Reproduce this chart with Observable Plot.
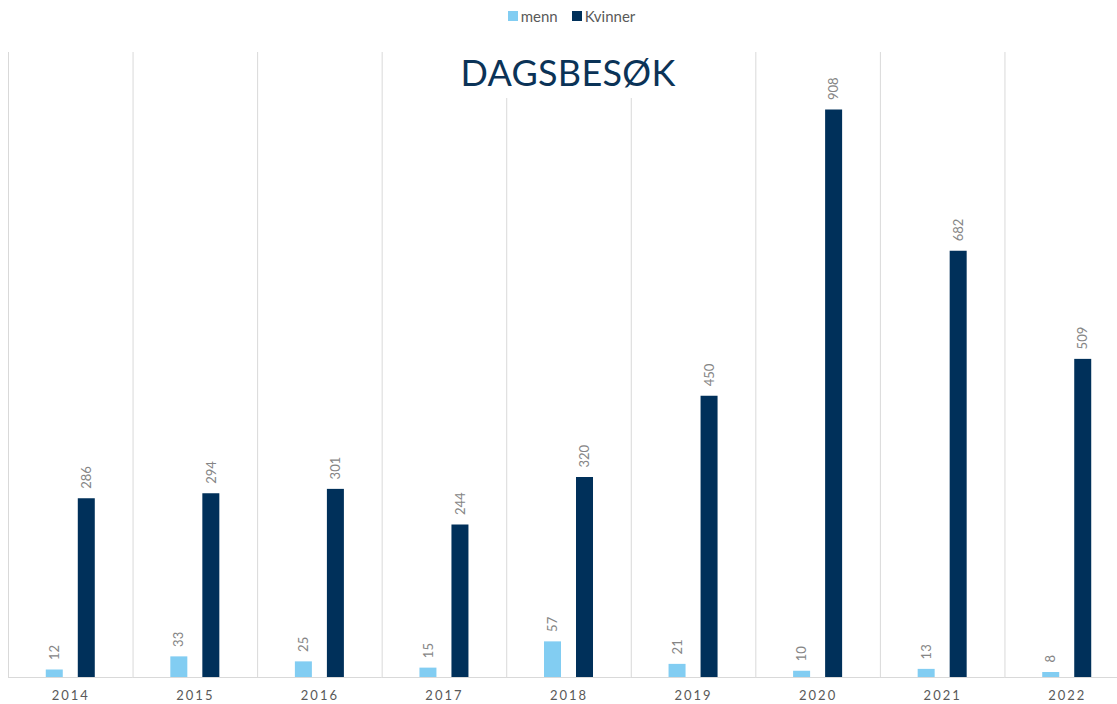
<!DOCTYPE html>
<html>
<head>
<meta charset="utf-8">
<script src="https://cdn.jsdelivr.net/npm/d3@7"></script>
<script src="https://cdn.jsdelivr.net/npm/@observablehq/plot@0.6"></script>
<style>
  html, body { margin: 0; padding: 0; background: #fff; overflow: hidden; }
  #wrap { position: relative; width: 1117px; height: 704px; overflow: hidden; font-family: Lato, "Open Sans", sans-serif; }
  #legend { position: absolute; top: 7px; left: 0; width: 1117px; display: flex; justify-content: center; gap: 14px; font-size: 15px; color: #595959; padding-left: 26px; box-sizing: border-box; }
  #legend span.item { display: flex; align-items: center; gap: 3px; }
  #legend span.sw { display: inline-block; width: 10px; height: 10px; }
  #title { position: absolute; top: 51px; left: 452px; width: 232px; height: 47px; background: #fff; text-align: center; font-size: 36px; line-height: 42px; color: #0b3357; letter-spacing: 0.3px; }
  #chart { position: absolute; top: 0; left: 0; width: 1129px; }
  #chart svg { max-width: none !important; }
</style>
</head>
<body>
<div id="wrap">
  <div id="chart"></div>
  <div id="legend"></div>
  <div id="title">DAGSBESØK</div>
</div>
<script>
const years = ["2014", "2015", "2016", "2017", "2018", "2019", "2020", "2021", "2022"];
const series = ["menn", "Kvinner"];
const menn = [12, 33, 25, 15, 57, 21, 10, 13, 8];
const kvinner = [286, 294, 301, 244, 320, 450, 908, 682, 509];
const colors = ["#82cdf2", "#00305a"];

const data = [];
years.forEach((y, i) => {
  data.push({year: y, series: "menn", value: menn[i]});
  data.push({year: y, series: "Kvinner", value: kvinner[i]});
});

const legend = document.getElementById("legend");
series.forEach((s, i) => {
  const item = document.createElement("span");
  item.className = "item";
  item.innerHTML = `<span class="sw" style="background:${colors[i]}"></span>${s}`;
  legend.appendChild(item);
});

const chart = Plot.plot({
  width: 1129,
  height: 704,
  marginLeft: 8,
  marginRight: 0,
  marginTop: 52,
  marginBottom: 27,
  style: {fontFamily: "Lato, 'Open Sans', sans-serif", background: "transparent", maxWidth: "none"},
  fx: {domain: years, padding: 0, round: false, label: null, axis: null},
  x: {domain: series, paddingInner: 0.469, paddingOuter: 1.18, round: false, axis: null},
  y: {domain: [0, 1000], axis: null},
  color: {domain: series, range: colors},
  marks: [
    Plot.frame({anchor: "left", stroke: "#d9d9d9", strokeOpacity: 1}),
    Plot.barY(data, {fx: "year", x: "series", y: "value", fill: "series"}),
    Plot.text(data, {fx: "year", x: "series", y: "value", text: d => String(d.value), rotate: -90, textAnchor: "start", dy: -10, fill: "#858585", fontSize: 13, style: "letter-spacing:0.6px"}),
    Plot.ruleY([0], {stroke: "#d9d9d9"}),
    Plot.axisFx({anchor: "bottom", tickSize: 0, tickPadding: 13, fontSize: 13, color: "#595959", label: null})
  ]
});
chart.style.maxWidth = "none";
chart.querySelectorAll('[aria-label="fx-axis tick label"] text').forEach(t => { t.style.letterSpacing = "2px"; });
document.getElementById("chart").appendChild(chart);
</script>
</body>
</html>
